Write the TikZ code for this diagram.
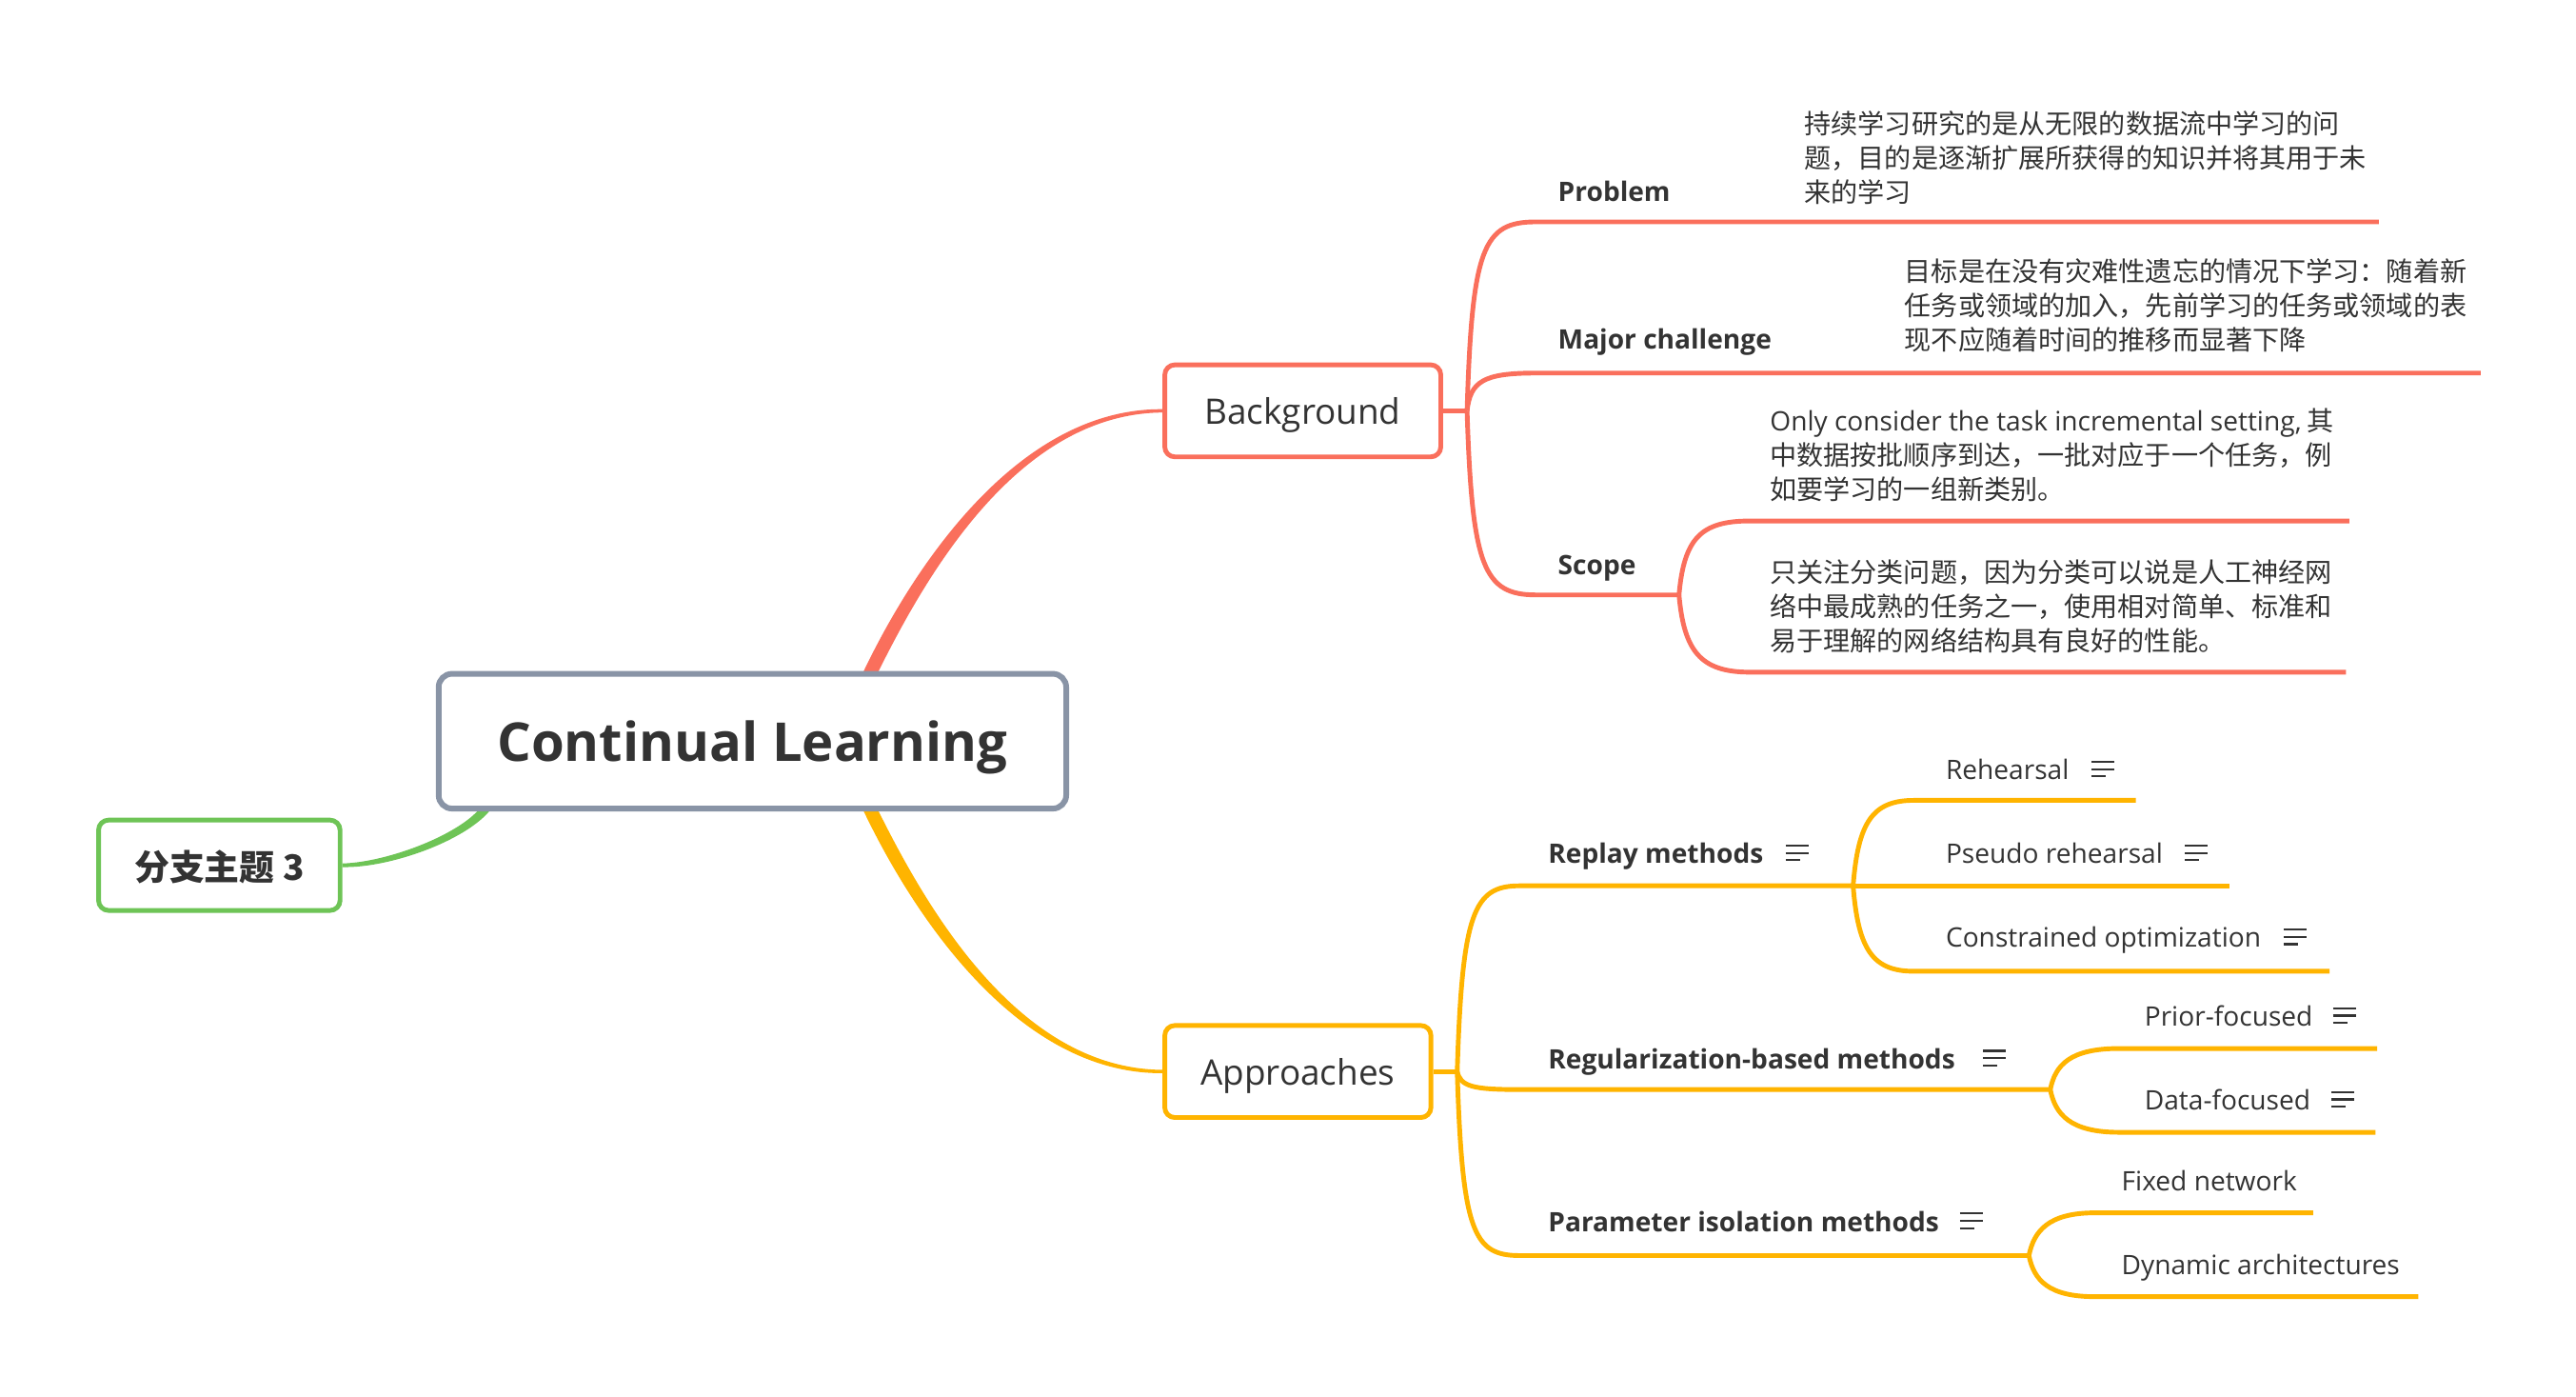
\documentclass[tikz,border=0pt]{standalone}
\usepackage{fontspec}
\setmainfont{Open Sans}
\newfontfamily\cjk{Noto Sans CJK SC}
\usetikzlibrary{backgrounds,calc}
\definecolor{cred}{RGB}{250,111,92}
\definecolor{cyel}{RGB}{255,180,0}
\definecolor{cgrn}{RGB}{110,196,86}
\definecolor{cgray}{RGB}{137,148,166}
\definecolor{txt}{RGB}{51,51,51}
\newcommand\px{0.017258cm}
\begin{document}
\begin{tikzpicture}[x=0.017258cm, y=-0.017258cm,
  box/.style={draw, line width=1.4pt, rounded corners=3pt, fill=white, inner sep=0, text=txt, text depth=0pt},
  lbl/.style={anchor=base west, inner sep=0, text=txt, font=\fontsize{8}{10}\selectfont},
  lblb/.style={lbl, font=\fontsize{8}{10}\selectfont\bfseries},
  para/.style={anchor=west, inner sep=0, text=txt, align=left, font=\cjk\fontsize{8}{10.3}\selectfont},
  rline/.style={draw=cred, line width=1.4pt},
  yline/.style={draw=cyel, line width=1.4pt},
  noteicon/.pic={\draw[txt, line width=0.6pt] (-7,-4.6) -- (7,-4.6) (-7,0) -- (7,0) (-7,4.5) -- (1.7,4.5);}
]
\useasboundingbox (0,0) rectangle (1568,849.5);

% boxes
\node[box, draw=cgray, line width=1.7pt, rounded corners=4pt, minimum width=382*\px, minimum height=82*\px, font=\fontsize{16}{19}\selectfont\bfseries] (cl) at (458,451) {Continual Learning};
\node[box, draw=cred, minimum width=168*\px, minimum height=56*\px, font=\fontsize{10.5}{12}\selectfont] (bg) at (793,250) {Background};
\node[box, draw=cyel, minimum width=162*\px, minimum height=56*\px, font=\fontsize{10.5}{12}\selectfont] (ap) at (790,652) {Approaches};
\node[box, draw=cgrn, minimum width=147*\px, minimum height=55*\px, font=\cjk\fontsize{10.5}{12}\selectfont\bfseries] (b3) at (133.5,526.5) {分支主题 3};

% anchor coordinates
\coordinate (cbg) at (528.5,412);
\coordinate (cap) at (528.5,490);
\coordinate (cb3) at (297,490);
\coordinate (bgs) at (893,250);
\coordinate (aps) at (887,652);
\coordinate (scs) at (1022,362);
\coordinate (rps) at (1128,539);
\coordinate (rgs) at (1248,663);
\coordinate (pis) at (1235,764);

\begin{scope}[on background layer]
\fill[white] (0,0) rectangle (1568,849.5);
% main tapered connectors
\fill[cred] ($(cbg)+(-4.5,0)$) .. controls ($(cbg)+(27,-67)$) and ($(bg.west)+(-88,-1.7)$) .. ($(bg.west)+(0,-1)$)
  -- ($(bg.west)+(0,1)$) .. controls ($(bg.west)+(-88,1.7)$) and ($(cbg)+(35,-62)$) .. ($(cbg)+(4.5,0)$) -- cycle;
\fill[cyel] ($(cap)+(-4.5,0)$) .. controls ($(cap)+(27,67)$) and ($(ap.west)+(-88,1.7)$) .. ($(ap.west)+(0,1)$)
  -- ($(ap.west)+(0,-1)$) .. controls ($(ap.west)+(-88,-1.7)$) and ($(cap)+(35,62)$) .. ($(cap)+(4.5,0)$) -- cycle;
\fill[cgrn] ($(cb3)+(-3.5,0)$) .. controls ($(cb3)+(-15,17)$) and ($(b3.east)+(28,-1.8)$) .. ($(b3.east)+(0,-1.1)$)
  -- ($(b3.east)+(0,1.1)$) .. controls ($(b3.east)+(30,1.8)$) and ($(cb3)+(-9,20)$) .. ($(cb3)+(3.5,0)$) -- cycle;

% background branches
\draw[rline] (bg.east) -- (bgs);
\draw[rline] (bgs) .. controls (896,150) and (903,135) .. (935,135) -- (1448,135);
\draw[rline] (bgs) .. controls (895,232) and (903,227) .. (935,227) -- (1510,227);
\draw[rline] (bgs) .. controls (896,345) and (903,362) .. (935,362) -- (scs);
\draw[rline] (scs) .. controls (1025,328) and (1035,317) .. (1065,317) -- (1430,317);
\draw[rline] (scs) .. controls (1025,396) and (1035,409) .. (1065,409) -- (1428,409);

% approaches branches
\draw[yline] (ap.east) -- (aps);
\draw[yline] (aps) .. controls (890,555) and (897,539) .. (925,539) -- (rps);
\draw[yline] (aps) .. controls (889,661) and (896,663) .. (925,663) -- (rgs);
\draw[yline] (aps) .. controls (890,750) and (897,764) .. (925,764) -- (pis);
\draw[yline] (rps) .. controls (1131,500) and (1140,487) .. (1165,487) -- (1300,487);
\draw[yline] (rps) -- (1357,539);
\draw[yline] (rps) .. controls (1131,578) and (1140,591) .. (1165,591) -- (1418,591);
\draw[yline] (rgs) .. controls (1251,648) and (1260,638) .. (1290,638) -- (1447,638);
\draw[yline] (rgs) .. controls (1251,678) and (1260,689) .. (1290,689) -- (1446,689);
\draw[yline] (pis) .. controls (1238,749) and (1247,738) .. (1275,738) -- (1408,738);
\draw[yline] (pis) .. controls (1238,779) and (1247,789) .. (1275,789) -- (1472,789);
\end{scope}

% background labels
\node[lblb] (pb) at (948,122.5) {Problem};
\node[para] (pbt) at (1098,96) {持续学习研究的是从无限的数据流中学习的问\\题，目的是逐渐扩展所获得的知识并将其用于未\\来的学习};
\node[lblb] (mc) at (948,212.5) {Major challenge};
\node[para] (mct) at (1159,186) {目标是在没有灾难性遗忘的情况下学习：随着新\\任务或领域的加入，先前学习的任务或领域的表\\现不应随着时间的推移而显著下降};
\node[lblb] (sc) at (948,349.5) {Scope};
\node[para] (sc1) at (1077,277) {{\normalfont Only consider the task incremental setting,} 其\\中数据按批顺序到达，一批对应于一个任务，例\\如要学习的一组新类别。};
\node[para] (sc2) at (1077,369) {只关注分类问题，因为分类可以说是人工神经网\\络中最成熟的任务之一，使用相对简单、标准和\\易于理解的网络结构具有良好的性能。};

% approaches labels
\node[lblb] (rp) at (942,525.5) {Replay methods};
\pic at (1094,519) {noteicon};
\node[lblb] (rg) at (942,650.5) {Regularization-based methods};
\pic at (1214,644) {noteicon};
\node[lblb] (pi) at (942,749.5) {Parameter isolation methods};
\pic at (1200,743) {noteicon};
\node[lbl] (rh) at (1184,474.5) {Rehearsal};
\pic at (1280,468) {noteicon};
\node[lbl] (ps) at (1184,525.5) {Pseudo rehearsal};
\pic at (1337,519) {noteicon};
\node[lbl] (co) at (1184,576.5) {Constrained optimization};
\pic at (1397,570) {noteicon};
\node[lbl] (pf) at (1305,624.5) {Prior-focused};
\pic at (1427,618) {noteicon};
\node[lbl] (df) at (1305,675.5) {Data-focused};
\pic at (1426,669) {noteicon};
\node[lbl] (fn) at (1291,724.5) {Fixed network};
\node[lbl] (da) at (1291,775.5) {Dynamic architectures};
\end{tikzpicture}
\end{document}
